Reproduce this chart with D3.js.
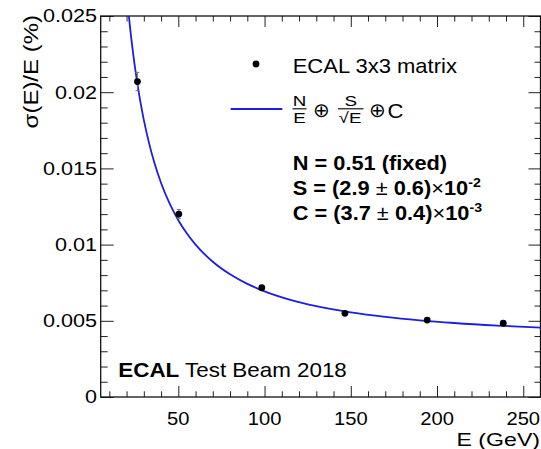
<!DOCTYPE html>
<html><head><meta charset="utf-8">
<script src="https://cdn.jsdelivr.net/npm/d3@7"></script>
<style>
body{margin:0;background:#fff}
svg{display:block}
text{font-family:"Liberation Sans",Arial,Helvetica,sans-serif;fill:#000}
</style>
</head><body>
<svg id="c" width="541" height="449"></svg>
<script>
// ---------- data ----------
const energies = [26.3, 50.3, 98.4, 146.6, 194.3, 238.4];          // GeV
const resolution = [0.0207, 0.0120, 0.00717, 0.00549, 0.00505, 0.00484];
const resolutionErr = [0.0006, 0.0003, 0.0001, 0.0001, 0.0001, 0.00015];
// fitted curve N/E (+) S/sqrt(E) (+) C
const fitE = [21, 22, 24, 26, 28, 30, 33, 36, 40, 45, 50, 55, 60, 70, 80, 90, 100, 115, 130, 150, 170, 190, 210, 235, 260];
const fitSigma = [0.025368, 0.024276, 0.022367, 0.020756, 0.019378, 0.018186, 0.016674, 0.015419, 0.014046, 0.012682,
                  0.011600, 0.010722, 0.009998, 0.008876, 0.008052, 0.007426, 0.006936, 0.006377, 0.005962, 0.005555,
                  0.005257, 0.005032, 0.004857, 0.004688, 0.004558];
const xTickValues = [50, 100, 150, 200, 250];
const xTickLabels = ["50", "100", "150", "200", "250"];
const xMinorValues = [10,20,30,40,60,70,80,90,110,120,130,140,160,170,180,190,210,220,230,240,260];
const yTickValues = [0, 0.005, 0.01, 0.015, 0.02, 0.025];
const yTickLabels = ["0", "0.005", "0.01", "0.015", "0.02", "0.025"];
const yMinorValues = [0.001,0.002,0.003,0.004,0.006,0.007,0.008,0.009,0.011,0.012,0.013,0.014,0.016,0.017,0.018,0.019,0.021,0.022,0.023,0.024];

// ---------- layout ----------
const L = 100.7, R = 540.5, T = 16, B = 397;
const x = d3.scaleLinear().domain([5, 260]).range([L, R]);
const y = d3.scaleLinear().domain([0, 0.025]).range([B, T]);
const svg = d3.select("#c");
svg.append("rect").attr("width", 541).attr("height", 449).attr("fill", "#fff");
svg.append("clipPath").attr("id", "clip").append("rect")
  .attr("x", L).attr("y", T).attr("width", R - L).attr("height", B - T);

function tickAxis(gen, tr) {
  const g = svg.append("g").attr("transform", tr).call(gen);
  g.select(".domain").remove();
  g.selectAll("text").remove();
  g.selectAll("line").attr("stroke", "#222").attr("stroke-width", 1);
}
tickAxis(d3.axisBottom(x).tickValues(xTickValues).tickSize(-11).tickFormat(""), `translate(0,${B})`);
tickAxis(d3.axisBottom(x).tickValues(xMinorValues).tickSize(-5.7).tickFormat(""), `translate(0,${B})`);
tickAxis(d3.axisTop(x).tickValues(xTickValues).tickSize(-11).tickFormat(""), `translate(0,${T})`);
tickAxis(d3.axisTop(x).tickValues(xMinorValues).tickSize(-5.5).tickFormat(""), `translate(0,${T})`);
tickAxis(d3.axisLeft(y).tickValues(yTickValues).tickSize(-13).tickFormat(""), `translate(${L},0)`);
tickAxis(d3.axisLeft(y).tickValues(yMinorValues).tickSize(-7).tickFormat(""), `translate(${L},0)`);
tickAxis(d3.axisRight(y).tickValues(yTickValues).tickSize(-12).tickFormat(""), `translate(${R},0)`);
tickAxis(d3.axisRight(y).tickValues(yMinorValues).tickSize(-6).tickFormat(""), `translate(${R},0)`);

svg.append("rect").attr("x", L).attr("y", T).attr("width", R - L).attr("height", B - T)
  .attr("fill", "none").attr("stroke", "#111").attr("stroke-width", 1.3);

// ---------- helpers ----------
function stext(xp, yp, sx, size, anchor, str, weight) {
  const g = svg.append("g").attr("transform", `translate(${xp},${yp}) scale(${sx},1)`);
  const t = g.append("text").attr("font-size", size).attr("text-anchor", anchor || "start");
  if (weight) t.attr("font-weight", weight);
  if (str !== null) t.text(str);
  return t;
}

// tick labels
yTickValues.forEach((v, i) => stext(97, y(v) + 6.4, 1.2, 18, "end", yTickLabels[i]));
xTickValues.forEach((v, i) => stext(x(v), 424.5, 1.12, 18, "middle", xTickLabels[i]));

// axis titles
stext(540, 445.5, 1.25, 18.5, "end", "E (GeV)");
svg.append("g").attr("transform", `translate(37.5,15) rotate(-90) scale(1.2,1)`)
  .append("text").attr("font-size", 20).attr("text-anchor", "end").text("σ(E)/E (%)");

// ---------- curve ----------
const line = d3.line().x((d, i) => x(fitE[i])).y(d => y(d)).curve(d3.curveMonotoneX);
svg.append("path").attr("clip-path", "url(#clip)").attr("d", line(fitSigma))
  .attr("fill", "none").attr("stroke", "#1e1ee0").attr("stroke-width", 1.8);

// ---------- points ----------
const pts = svg.append("g");
energies.forEach((e, i) => {
  const cx = x(e);
  const y1 = y(resolution[i] + resolutionErr[i]), y2 = y(resolution[i] - resolutionErr[i]);
  pts.append("line").attr("x1", cx).attr("x2", cx).attr("y1", y1).attr("y2", y2).attr("stroke", "#777").attr("stroke-width", 1);
  pts.append("line").attr("x1", cx - 2).attr("x2", cx + 2).attr("y1", y1).attr("y2", y1).attr("stroke", "#777");
  pts.append("line").attr("x1", cx - 2).attr("x2", cx + 2).attr("y1", y2).attr("y2", y2).attr("stroke", "#777");
  pts.append("circle").attr("cx", cx).attr("cy", y(resolution[i])).attr("r", 3.4).attr("fill", "#000");
});

// ---------- legend ----------
svg.append("circle").attr("cx", 256).attr("cy", 64).attr("r", 3.4).attr("fill", "#000");
stext(292.7, 72.7, 1.1, 20, "start", "ECAL 3x3 matrix");
svg.append("line").attr("x1", 230.7).attr("x2", 282.3).attr("y1", 109).attr("y2", 109)
  .attr("stroke", "#1e1ee0").attr("stroke-width", 1.8);
// formula N/E (+) S/sqrt(E) (+) C
stext(299.5, 105.5, 1.25, 15, "middle", "N");
svg.append("line").attr("x1", 292.5).attr("x2", 306.5).attr("y1", 108.8).attr("y2", 108.8).attr("stroke", "#000").attr("stroke-width", 1.1);
stext(299.5, 123, 1.25, 15, "middle", "E");
svg.append("text").attr("x", 321.5).attr("y", 110).attr("dominant-baseline", "central").attr("font-size", 20).attr("text-anchor", "middle")
  .style("font-family", "'DejaVu Sans',sans-serif").text("⊕");
stext(350.8, 105.5, 1.25, 15, "middle", "S");
svg.append("line").attr("x1", 338).attr("x2", 363.5).attr("y1", 108.8).attr("y2", 108.8).attr("stroke", "#000").attr("stroke-width", 1.1);
stext(350, 123, 1.25, 15, "middle", "√E");
svg.append("text").attr("x", 377.5).attr("y", 110).attr("dominant-baseline", "central").attr("font-size", 20).attr("text-anchor", "middle")
  .style("font-family", "'DejaVu Sans',sans-serif").text("⊕");
stext(387.5, 117.5, 1.1, 20, "start", "C");

stext(292.7, 170, 1.09, 20, "start", "N = 0.51 (fixed)", "bold");
function paramLine(yp, name, val, err, exp) {
  const t = stext(292.7, yp, 1.09, 20, "start", null, "bold");
  t.append("tspan").text(`${name} = (${val} `);
  t.append("tspan").attr("font-weight", "normal").text("± ");
  t.append("tspan").text(`${err})`);
  t.append("tspan").attr("font-weight", "normal").text("×");
  t.append("tspan").text("10");
  t.append("tspan").attr("font-size", 13).attr("dy", -8).text(exp);
}
paramLine(195, "S", "2.9", "0.6", "-2");
paramLine(220, "C", "3.7", "0.4", "-3");

// ---------- label ----------
const lab = stext(118.3, 377.3, 1.12, 20, "start", null);
lab.append("tspan").attr("font-weight", "bold").text("ECAL");
lab.append("tspan").text(" Test Beam 2018");
</script>
</body></html>
